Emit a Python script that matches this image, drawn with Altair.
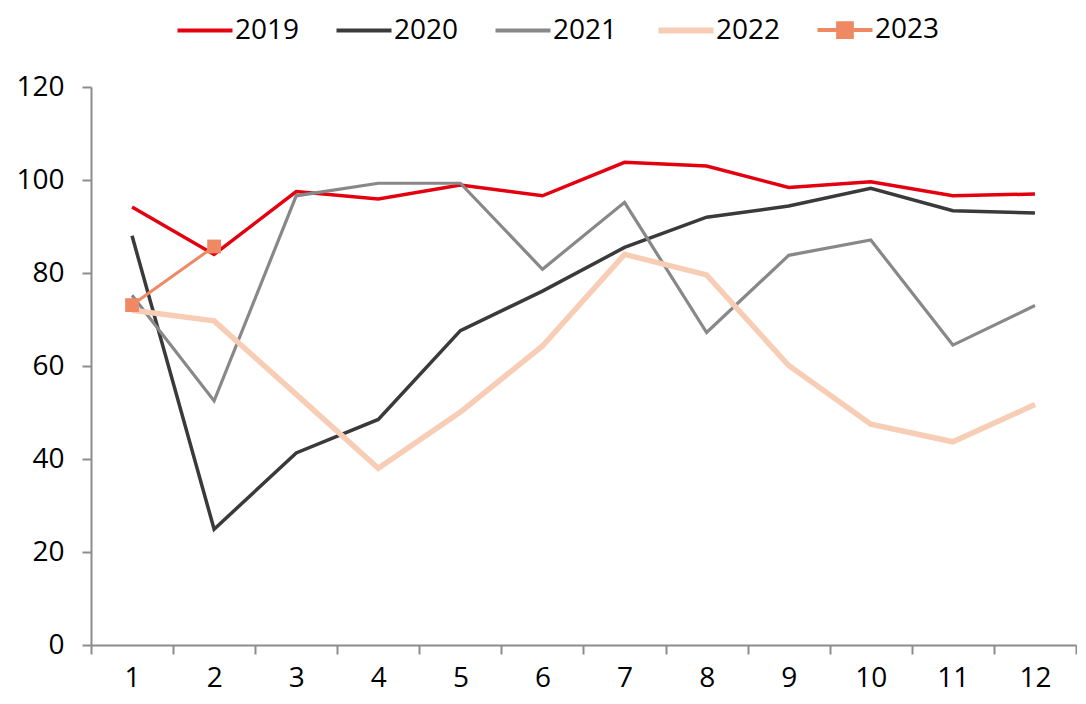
import altair as alt
import pandas as pd

months = list(range(1, 13))
years = ["2019", "2020", "2021", "2022", "2023"]
y2019 = [94.2, 84.0, 97.5, 95.9, 98.9, 96.6, 103.8, 103.0, 98.4, 99.6, 96.6, 97.0]
y2020 = [88.0, 24.9, 41.3, 48.5, 67.6, 76.1, 85.5, 92.0, 94.4, 98.2, 93.4, 92.9]
y2021 = [75.2, 52.5, 96.6, 99.3, 99.3, 80.8, 95.2, 67.2, 83.8, 87.1, 64.5, 73.0]
y2022 = [72.0, 69.7, 53.9, 38.0, 50.1, 64.3, 84.0, 79.6, 60.1, 47.5, 43.7, 51.7]
y2023 = [73.1, 85.7]

colors = ["#E3000F", "#3A3A3A", "#888888", "#F7CDB6", "#EE8963"]
widths = [3.5, 3.5, 3.2, 5.5, 3.0]

rows = []
for yr, vals in zip(years, [y2019, y2020, y2021, y2022, y2023]):
    for m, v in zip(months, vals):
        rows.append({"month": m, "year": yr, "value": v})
df = pd.DataFrame(rows)

FONT = "Open Sans"
FS = 28

x_enc = alt.X("month:O", scale=alt.Scale(type="band", paddingInner=0, paddingOuter=0),
              axis=alt.Axis(title=None, labelAngle=0, tickBand="extent", labelPadding=10,
                            labelFontSize=FS, tickSize=9, grid=False))
y_enc = alt.Y("value:Q", scale=alt.Scale(domain=[0, 120], nice=False, zero=True),
              axis=alt.Axis(title=None, values=[0, 20, 40, 60, 80, 100, 120], tickSize=9,
                            labelPadding=18, labelFontSize=FS, minExtent=83, maxExtent=83,
                            grid=False))

line_path = "M-2,0H2"
sq_path = "M-2,0H2M-0.5,-0.5H0.5V0.5H-0.5Z"

legend = alt.Legend(
    title=None, orient="none", direction="horizontal", legendX=100, legendY=-71,
    symbolType={"expr": "datum.value === '2023' ? '" + sq_path + "' : '" + line_path + "'"},
    symbolStrokeWidth={"expr": "datum.value === '2022' ? 6 : 4"},
    symbolFillColor={"expr": "datum.value === '2023' ? '#EE8963' : 'transparent'"},
    symbolSize=756, labelFontSize=FS, labelColor="#000000",
    labelOffset=16, columnPadding=28, labelFont=FONT, labelLimit=200,
)

color_enc = alt.Color("year:N", scale=alt.Scale(domain=years, range=colors), legend=legend)

layers = []
for yr, w in zip(years, widths):
    layers.append(
        alt.Chart(df).transform_filter(alt.datum.year == yr)
        .mark_line(strokeWidth=w, strokeCap="butt", strokeJoin="miter")
        .encode(x=x_enc, y=y_enc, color=color_enc, order=alt.Order("month:Q"))
    )

points = alt.Chart(df).transform_filter(alt.datum.year == "2023").mark_point(
    shape="square", filled=True, size=190, opacity=1
).encode(x=x_enc, y=y_enc, color=color_enc)
layers.append(points)

chart = alt.layer(*layers).properties(
    width=985, height=558, background="#FFFFFF",
    padding={"left": 0, "top": 8, "right": 0, "bottom": 4},
).configure_view(stroke=None).configure_axis(
    grid=False, domainColor="#8C8C8C", tickColor="#8C8C8C", domainWidth=2, tickWidth=2,
    labelColor="#000000", labelFont=FONT,
)

chart.save("out.html", embed_options={"renderer": "svg", "actions": False})
